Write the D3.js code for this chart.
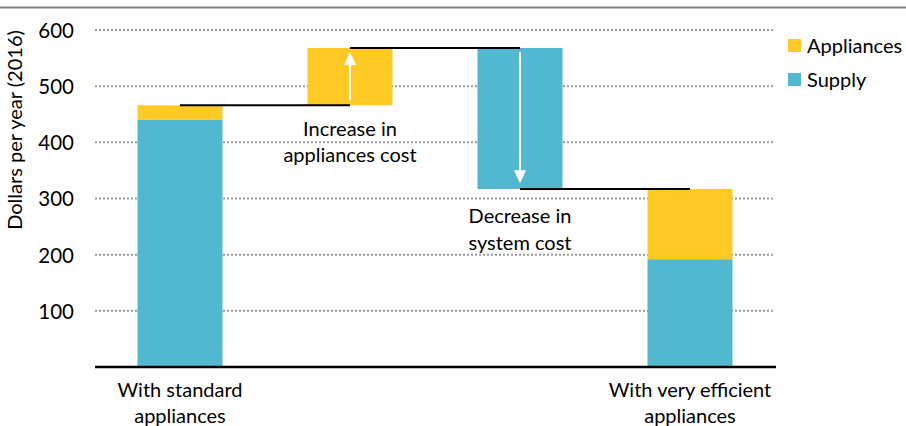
<!DOCTYPE html>
<meta charset="utf-8">
<style>
body { margin: 0; background: #fff; }
text { font-family: Lato, "Open Sans", sans-serif; fill: #000; }
.grid line { stroke: #999; stroke-width: 2px; stroke-dasharray: 2 2; }
.axis--y .domain, .axis--y line { display: none; }
</style>
<svg width="906" height="426"></svg>
<script src="https://d3js.org/d3.v7.min.js"></script>
<script>

// steps of the waterfall, left to right
var steps = ["standard", "increase", "decrease", "efficient"];
var stepLabels = [["With standard", "appliances"], [], [], ["With very efficient", "appliances"]];

// stacked bar values (base, appliances, supply) per step
var supplyBase = [0, 0, 317, 0];
var supplyVals = [440, 0, 251, 192];
var appliancesBase = [440, 466, 0, 192];
var appliancesVals = [26, 102, 0, 125];

// connector levels between steps
var connectors = [
  {from: "standard", to: "increase", value: 466},
  {from: "increase", to: "decrease", value: 568},
  {from: "decrease", to: "efficient", value: 317}
];

// arrows inside the change bars
var arrows = [
  {step: "increase", from: 475, to: 561},
  {step: "decrease", from: 561, to: 327}
];

var notes = [
  {step: "increase", value: 412, lines: ["Increase in", "appliances cost"]},
  {step: "decrease", value: 256, lines: ["Decrease in", "system cost"]}
];

var yTicks = [100, 200, 300, 400, 500, 600];
var legendItems = ["Appliances", "Supply"];
var colors = {Appliances: "#ffc926", Supply: "#52b8d0"};

var svg = d3.select("svg");
var margin = {top: 30, right: 131, bottom: 59, left: 95};
var width = +svg.attr("width") - margin.left - margin.right;
var height = +svg.attr("height") - margin.top - margin.bottom;

// rule across the top
svg.append("line")
    .attr("x1", 0).attr("x2", +svg.attr("width"))
    .attr("y1", 7.5).attr("y2", 7.5)
    .attr("stroke", "#808080")
    .attr("stroke-width", 2);

var g = svg.append("g").attr("transform", "translate(" + margin.left + "," + margin.top + ")");

var x = d3.scaleBand().domain(steps).range([0, width]).paddingInner(0.5).paddingOuter(0.25);
var y = d3.scaleLinear().domain([0, 600]).range([height, 0]);
var mid = function(s) { return x(s) + x.bandwidth() / 2; };

// gridlines
g.append("g")
    .attr("class", "grid")
    .selectAll("line")
    .data(yTicks)
    .enter().append("line")
    .attr("x1", 0).attr("x2", width)
    .attr("y1", function(d) { return y(d); })
    .attr("y2", function(d) { return y(d); });

g.append("g")
    .attr("class", "axis axis--y")
    .call(d3.axisLeft(y).tickValues(yTicks).tickSize(0).tickPadding(21))
    .selectAll("text")
    .style("font-size", "20.5px")
    .attr("dy", "0.36em");

g.append("text")
    .attr("transform", "rotate(-90)")
    .attr("x", -100)
    .attr("y", -73)
    .attr("text-anchor", "middle")
    .style("font-size", "20px")
    .text("Dollars per year (2016)");

// supply segments
g.selectAll(".bar-supply")
    .data(steps)
    .enter().append("rect")
    .attr("class", "bar-supply")
    .attr("x", function(d) { return x(d); })
    .attr("width", x.bandwidth())
    .attr("y", function(d, i) { return y(supplyBase[i] + supplyVals[i]); })
    .attr("height", function(d, i) { return y(supplyBase[i]) - y(supplyBase[i] + supplyVals[i]); })
    .attr("fill", colors.Supply);

// appliances segments
g.selectAll(".bar-appliances")
    .data(steps)
    .enter().append("rect")
    .attr("class", "bar-appliances")
    .attr("x", function(d) { return x(d); })
    .attr("width", x.bandwidth())
    .attr("y", function(d, i) { return y(appliancesBase[i] + appliancesVals[i]); })
    .attr("height", function(d, i) { return y(appliancesBase[i]) - y(appliancesBase[i] + appliancesVals[i]); })
    .attr("fill", colors.Appliances);

// connectors
g.selectAll(".connector")
    .data(connectors)
    .enter().append("line")
    .attr("class", "connector")
    .attr("x1", function(d) { return mid(d.from); })
    .attr("x2", function(d) { return mid(d.to); })
    .attr("y1", function(d) { return y(d.value); })
    .attr("y2", function(d) { return y(d.value); })
    .attr("stroke", "#000")
    .attr("stroke-width", 2);

// white arrows
var arrowG = g.selectAll(".arrow")
    .data(arrows)
    .enter().append("g")
    .attr("class", "arrow");

arrowG.append("line")
    .attr("x1", function(d) { return mid(d.step); })
    .attr("x2", function(d) { return mid(d.step); })
    .attr("y1", function(d) { return y(d.from); })
    .attr("y2", function(d) { var dir = d.to > d.from ? 1 : -1; return y(d.to) + dir * 10; })
    .attr("stroke", "#fff")
    .attr("stroke-width", 2);

arrowG.append("path")
    .attr("fill", "#fff")
    .attr("d", function(d) {
        var cx = mid(d.step), ty = y(d.to), dir = d.to > d.from ? 1 : -1;
        return "M" + cx + "," + ty + "L" + (cx - 6) + "," + (ty + dir * 13) + "L" + (cx + 6) + "," + (ty + dir * 13) + "Z";
    });

// change notes
var noteText = g.selectAll(".note")
    .data(notes)
    .enter().append("text")
    .attr("class", "note")
    .attr("text-anchor", "middle")
    .style("font-size", "20px")
    .attr("x", function(d) { return mid(d.step); })
    .attr("y", function(d) { return y(d.value); });

noteText.selectAll("tspan")
    .data(function(d) { return d.lines.map(function(l) { return {line: l, step: d.step}; }); })
    .enter().append("tspan")
    .attr("x", function(d) { return mid(d.step); })
    .attr("dy", function(d, i) { return i ? 26.5 : 0; })
    .text(function(d) { return d.line; });

// baseline axis
g.append("line")
    .attr("x1", 0).attr("x2", width + 1)
    .attr("y1", height).attr("y2", height)
    .attr("stroke", "#000")
    .attr("stroke-width", 2.5);

// category labels
var cat = g.selectAll(".cat")
    .data(steps)
    .enter().append("text")
    .attr("class", "cat")
    .attr("text-anchor", "middle")
    .style("font-size", "20px")
    .attr("x", function(d) { return mid(d); })
    .attr("y", height + 30);

cat.selectAll("tspan")
    .data(function(d, i) { return stepLabels[i].map(function(l) { return {line: l, step: d}; }); })
    .enter().append("tspan")
    .attr("x", function(d) { return mid(d.step); })
    .attr("dy", function(d, i) { return i ? 25.5 : 0; })
    .text(function(d) { return d.line; });

// legend
var legend = svg.append("g")
    .attr("transform", "translate(788,39)")
    .selectAll("g")
    .data(legendItems)
    .enter().append("g")
    .attr("transform", function(d, i) { return "translate(0," + (i * 34) + ")"; });

legend.append("rect")
    .attr("width", 13).attr("height", 13)
    .attr("fill", function(d) { return colors[d]; });

legend.append("text")
    .attr("x", 19)
    .attr("y", 13.5)
    .style("font-size", "20px")
    .text(function(d) { return d; });

</script>
